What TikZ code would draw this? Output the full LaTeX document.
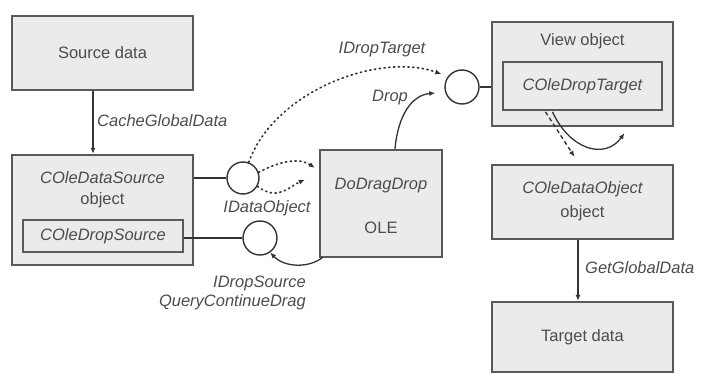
\documentclass[tikz,border=0pt]{standalone}
\usepackage{fontspec}
\setmainfont{Liberation Sans}
\usetikzlibrary{arrows.meta,calc}
\begin{document}
\begin{tikzpicture}[x=1pt,y=-1pt,
  font=\fontsize{16.5}{18}\selectfont,
  box/.style={draw=black!65,line width=2.4pt,fill=black!8,inner sep=0pt},
  inbox/.style={draw=black!65,line width=1.8pt,fill=black!8,inner sep=0pt},
  port/.style={circle,draw=black!80,line width=1.4pt,fill=white,inner sep=0pt},
  txt/.style={inner sep=0pt,text=black!70},
  itxt/.style={inner sep=0pt,text=black!70,font=\fontsize{16.5}{18}\selectfont\itshape},
  con/.style={draw=black!80,line width=1.3pt},
  arr/.style={con,-{Latex[length=6pt,width=5pt]}},
  dotarr/.style={draw=black!80,line width=1.7pt,dash pattern=on 1.2pt off 3.6pt,line cap=round,-{Latex[length=6pt,width=5pt]}},
  dasharr/.style={draw=black!80,line width=1.4pt,dash pattern=on 4pt off 3pt,-{Latex[length=6pt,width=5pt]}}
]
\useasboundingbox (0,0) rectangle (705,374);
% boxes
\node[box,minimum width=181pt,minimum height=74pt] (src) at (102.5,53) {};
\node[txt] (srct) at (102.5,53) {Source data};
\node[box,minimum width=181pt,minimum height=110pt] (ds) at (102.5,210) {};
\node[itxt] (dst) at (102.5,178) {COleDataSource};
\node[txt] (dso) at (102.5,200) {object};
\node[inbox,minimum width=160pt,minimum height=32pt] (dsin) at (103,236) {};
\node[itxt] (dsint) at (103,236) {COleDropSource};
\node[box,minimum width=122pt,minimum height=107pt] (ole) at (381,203.5) {};
\node[itxt] (olet) at (381,186) {DoDragDrop};
\node[txt] (oleo) at (381,228) {OLE};
\node[box,minimum width=181pt,minimum height=104pt] (view) at (582.5,74) {};
\node[txt] (viewt) at (582.5,41) {View object};
\node[inbox,minimum width=159pt,minimum height=48pt] (vin) at (582.5,86) {};
\node[itxt] (vint) at (582.5,86) {COleDropTarget};
\node[box,minimum width=181pt,minimum height=74pt] (dobj) at (582.5,202) {};
\node[itxt] (dobjt) at (582.5,189) {COleDataObject};
\node[txt] (dobjo) at (582.5,213) {object};
\node[box,minimum width=181pt,minimum height=70pt] (tgt) at (582.5,337) {};
\node[txt] (tgtt) at (582.5,337) {Target data};
% ports
\node[port,minimum size=32pt] (c1) at (243,178) {};
\node[port,minimum size=34pt] (c2) at (260,238) {};
\node[port,minimum size=34pt] (c3) at (462,87) {};
\draw[con] (c1 -| ds.east) -- (c1.west);
\draw[con] (c2 -| dsin.east) -- (c2.west);
\draw[con] (c3.east) -- (c3 -| view.west);
% straight arrows
\draw[arr] ([xshift=-9.5pt]src.south) -- ([xshift=-9.5pt]src.south |- ds.north);
\node[itxt,anchor=west] (lcache) at (97,121) {CacheGlobalData};
\draw[arr] ([xshift=-4.5pt]dobj.south) -- ([xshift=-4.5pt]dobj.south |- tgt.north);
\node[itxt,anchor=west] (lget) at (585,268) {GetGlobalData};
% dotted
\draw[dotarr] (c1.70) .. controls (275,90) and (380,52) .. ($(c3.west)+(-3,-13)$);
\node[itxt] (ldt) at (382,50) {IDropTarget};
\draw[dotarr] (c1.20) .. controls (282,160) and (300,158) .. ($(ole.north west)+(-4,19)$);
\draw[dotarr] (c1.-30) .. controls (278,202) and (290,186) .. ($(ole.north west)+(-14,31)$);
\node[itxt] (ldo) at (267,208) {IDataObject};
% solid curves
\draw[arr] ($(ole.south west)+(4,-1)$) .. controls (310,268) and (285,268) .. (c2.-55);
\node[itxt,anchor=east] (lds) at (306,283) {IDropSource};
\node[itxt,anchor=east] (lqc) at (306,302) {QueryContinueDrag};
\draw[arr] ($(ole.north)+(14,0)$) .. controls (398,115) and (412,95) .. ($(c3.west)+(-9,6)$);
\node[itxt] (ldrop) at (390,98) {Drop};
\draw[arr] ($(vin.south)+(-30,1)$) .. controls (570,150) and (605,160) .. ($(view.south)+(42,6)$);
\draw[dasharr] ($(vin.south)+(-37,1)$) -- ($(dobj.north)+(-8,-7)$);
\end{tikzpicture}
\end{document}
